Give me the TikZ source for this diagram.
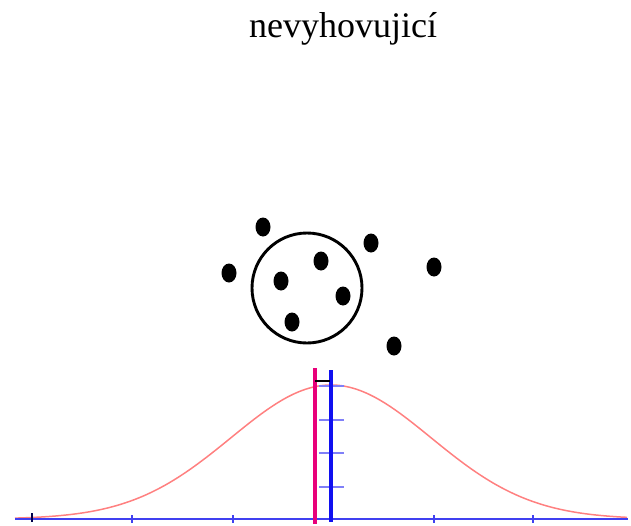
\documentclass[tikz,border=0pt]{standalone}
\usepackage{fontspec}
\setmainfont{Liberation Serif}
\usetikzlibrary{positioning}
\definecolor{cpink}{HTML}{E8007A}
\definecolor{cblue}{HTML}{1010F0}
\definecolor{caxis}{HTML}{4040F0}
\definecolor{ctick}{HTML}{8080F8}
\definecolor{ccurve}{HTML}{FF8080}

\begin{document}
\begin{tikzpicture}[
  x=0.5pt, y=-0.5pt,
  datapoint/.style={fill=black},
  ringline/.style={draw=black, line width=1.45pt},
  axisline/.style={draw=caxis, line width=0.9pt},
  axistick/.style={draw=caxis, line width=0.9pt},
  meanline/.style={draw=cpink, line width=2.1pt},
  refline/.style={draw=cblue, line width=1.8pt},
  scaletick/.style={draw=ctick, line width=0.6pt},
  bellcurve/.style={draw=ccurve, line width=0.75pt}
]
\useasboundingbox (0,0) rectangle (631,525);

% title
\node[font=\fontsize{18}{20}\selectfont, anchor=base] (title) at (343,37) {nevyhovujicí};

% ============================================================
% scatter of points and the ring round the cluster
% ============================================================
\draw[ringline] (307,288) circle (55);
\foreach \xp/\yp in {263/227, 229/273, 321/261, 281/281, 343/296,
                     292/322, 371/243, 434/267, 394/346} {
  \fill[datapoint] (\xp,\yp) ellipse (7.5 and 9.5);
}

% ============================================================
% bell curve with axis
% ============================================================
\draw[bellcurve] plot[domain=15:627, samples=120, smooth]
  (\x, {519 - 134*exp(-((\x-331)/100)^2/2)});

\coordinate (axl) at (15,519);
\coordinate (axr) at (628,519);
\draw[axisline] (axl) -- (axr);
\foreach \xp in {132, 233, 434, 533} {
  \draw[axistick] (\xp,515) -- (\xp,523);
}
\draw[draw=black!70!blue, line width=0.9pt] (32,513) -- (32,522);

% scale ticks on the reference line
\foreach \yp in {386, 420, 453, 487} {
  \draw[scaletick] (319,\yp) -- (344,\yp);
}

% vertical lines
\coordinate (mtop) at (315,368);
\coordinate (mbot) at (315,524);
\coordinate (rtop) at (331,370);
\coordinate (rbot) at (331,522);
\draw[meanline] (mtop) -- (mbot);
\draw[refline] (rtop) -- (rbot);
\draw[black, line width=0.8pt] (315,381) -- (330,381);

\end{tikzpicture}
\end{document}
